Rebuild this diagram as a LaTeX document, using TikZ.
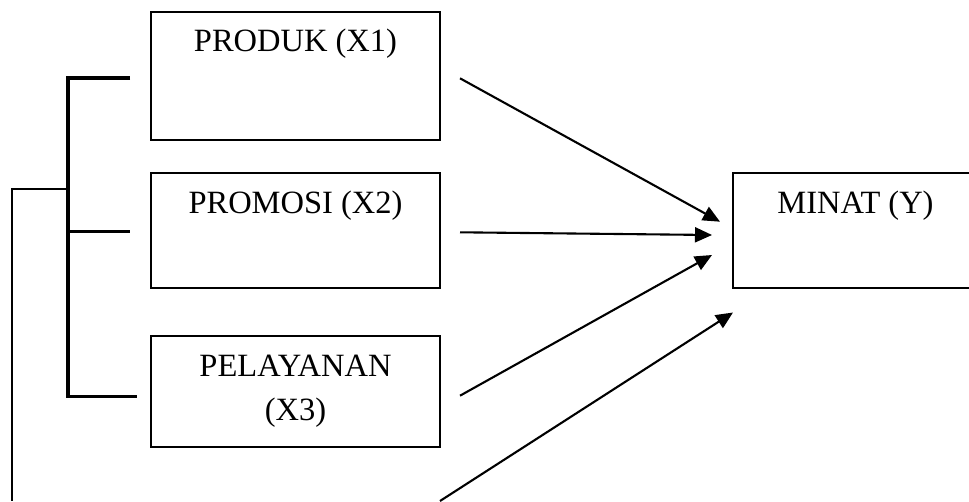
\documentclass[tikz,border=0pt]{standalone}
\usepackage{fontspec}
\setmainfont{Liberation Serif}
\usetikzlibrary{arrows.meta}
\begin{document}
\begin{tikzpicture}[x=1pt,y=-1pt,
  box/.style={draw,line width=1.7pt,minimum width=289pt,inner sep=0pt},
  lbl/.style={anchor=base,inner sep=0pt,font=\fontsize{32.5}{44}\selectfont,align=center},
  arr/.style={line width=2.1pt,-{Triangle[length=17pt,width=15pt]}},
  brk/.style={line width=3.4pt},
  thin/.style={line width=1.6pt}]
\useasboundingbox (0,0) rectangle (969,501);
\clip (0,0) rectangle (969,501);
% boxes
\node[box,minimum height=128.3pt] (b1) at (295.5,75.8) {};
\node[box,minimum height=115pt] (b2) at (295.5,230.8) {};
\node[box,minimum height=111.6pt] (b3) at (295.5,391.5) {};
\node[box,minimum width=245pt,minimum height=115pt] (b4) at (855.5,230.8) {};
% labels
\node[lbl] (t1) at (295.5,51.7) {PRODUK (X1)};
\node[lbl] (t2) at (295.5,213.3) {PROMOSI (X2)};
\node[lbl] (t3) at (295.5,376) {PELAYANAN};
\node[lbl] (t3b) at (295.5,420) {(X3)};
\node[lbl] (t4) at (855.5,213.3) {MINAT (Y)};
% bracket
\coordinate (k1) at (68,78);
\coordinate (k2) at (68,231.7);
\coordinate (k3) at (68,396.7);
\coordinate (h1) at (130,78);
\coordinate (h2) at (130,231.7);
\coordinate (h3) at (137,396.7);
\coordinate (m) at (68,189);
\coordinate (c1) at (12,189);
\coordinate (c2) at (12,501);
\draw[brk] (h1) -- (k1) -- (k3) -- (h3);
\draw[brk] (k2) -- (h2);
\draw[thin] (m) -- (c1) -- (c2);
% arrows
\coordinate (s1) at (460,78.3);
\coordinate (e1) at (720,221.7);
\coordinate (s2) at (460,232.3);
\coordinate (e2) at (712,235);
\coordinate (s3) at (460,395.7);
\coordinate (e3) at (712,255);
\coordinate (s4) at (440,501);
\coordinate (e4) at (733,312.5);
\draw[arr] (s1) -- (e1);
\draw[arr] (s2) -- (e2);
\draw[arr] (s3) -- (e3);
\draw[arr] (s4) -- (e4);
\end{tikzpicture}
\end{document}
